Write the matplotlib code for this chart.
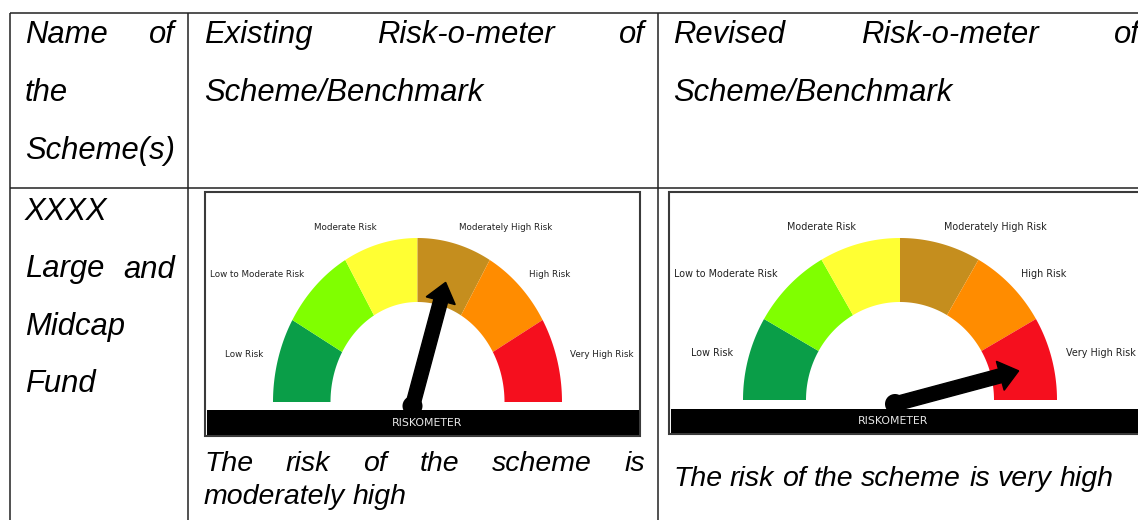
import numpy as np
import matplotlib
matplotlib.use('Agg')
import matplotlib.pyplot as plt
from matplotlib.patches import Polygon, Rectangle, FancyArrow, Circle

# data
RISK_LEVELS = ['Low Risk', 'Low to Moderate Risk', 'Moderate Risk',
               'Moderately High Risk', 'High Risk', 'Very High Risk']
RISK_COLORS = ['#0a9e48', '#80ff00', '#ffff33', '#c58e1e', '#ff8c00', '#f50f1e']

HEADERS = ['Name of the Scheme(s)',
           'Existing Risk-o-meter of Scheme/Benchmark',
           'Revised Risk-o-meter of Scheme/Benchmark']
SCHEME_NAME = 'XXXX Large and Midcap Fund'
EXISTING_LEVEL = 'Moderately High Risk'
REVISED_LEVEL = 'Very High Risk'
EXISTING_TEXT = 'The risk of the scheme is moderately high'
REVISED_TEXT = 'The risk of the scheme is very high'
METER_TITLE = 'RISKOMETER'

# label placement around a gauge, in units of the gauge radii
LABEL_POS = [(-1.20, 0.29), (-1.11, 0.78), (-0.50, 1.067),
             (0.607, 1.067), (0.915, 0.78), (1.278, 0.29)]

BODY = dict(family='Liberation Sans', fontstyle='italic', color='black')

fig = plt.figure(figsize=(11.38, 5.2), dpi=100)
ax = fig.add_axes([0, 0, 1, 1])
ax.set_xlim(0, 1138)
ax.set_ylim(520, 0)
ax.axis('off')
renderer = fig.canvas.get_renderer()


def text_width(s, size):
    t = ax.text(0, 0, s, fontsize=size, **BODY)
    w = t.get_window_extent(renderer).width
    t.remove()
    return w


def paragraph(text, x0, x1, y0, size, lead, justify=True):
    words = text.split()
    widths = [text_width(w, size) for w in words]
    space = text_width('x x', size) - text_width('xx', size)
    lines, cur = [], []
    for w, wd in zip(words, widths):
        trial = cur + [(w, wd)]
        tw = sum(d for _, d in trial) + space * (len(trial) - 1)
        if cur and tw > x1 - x0:
            lines.append(cur)
            cur = [(w, wd)]
        else:
            cur = trial
    lines.append(cur)
    for i, line in enumerate(lines):
        last = i == len(lines) - 1
        if justify and not last and len(line) > 1:
            gap = (x1 - x0 - sum(d for _, d in line)) / (len(line) - 1)
        else:
            gap = space
        x = x0
        for w, wd in line:
            ax.text(x, y0 + i * lead, w, fontsize=size, ha='left',
                    va='baseline', **BODY)
            x += wd + gap


def gauge(g, level):
    cx, cy, rx, ry, rxi, ryi = g['cx'], g['cy'], g['rx'], g['ry'], g['rxi'], g['ryi']
    x0, y0, x1, y1 = g['box']
    ax.add_patch(Rectangle((x0, y0), x1 - x0, y1 - y0, fc='white',
                           ec='#3a3a3a', lw=1.5, zorder=1))
    n = len(RISK_LEVELS)
    step = 180 / n
    for i, col in enumerate(RISK_COLORS):
        t = np.radians(np.linspace(180 - step * (i + 1), 180 - step * i, 40))
        outer = np.column_stack([cx + rx * np.cos(t), cy - ry * np.sin(t)])
        inner = np.column_stack([cx + rxi * np.cos(t), cy - ryi * np.sin(t)])[::-1]
        ax.add_patch(Polygon(np.vstack([outer, inner]), closed=True,
                             fc=col, ec='none', zorder=2))
    fs = 6.35 * rx / 144.5
    for name, (px, py) in zip(RISK_LEVELS, LABEL_POS):
        ax.text(cx + px * rx, cy - py * ry, name, fontsize=fs, ha='center',
                va='center', family='DejaVu Sans', color='#222222', zorder=3)
    # needle
    idx = RISK_LEVELS.index(level)
    a = np.radians(180 - step * (idx + 0.5))
    bx, by = cx - 5, cy + 4
    L = 128
    ax.add_patch(FancyArrow(bx, by, L * np.cos(a), -L * np.sin(a), width=14,
                            head_width=30, head_length=19,
                            length_includes_head=True, fc='black', ec='black',
                            zorder=4))
    ax.add_patch(Circle((bx, by), 10, fc='black', ec='none', zorder=4))
    bx0, by0, bx1, by1 = g['bar']
    ax.add_patch(Rectangle((bx0, by0), bx1 - bx0, by1 - by0, fc='black',
                           ec='none', zorder=5))
    ax.text(g['meter_x'], (by0 + by1) / 2, METER_TITLE, fontsize=7.8,
            family=['Liberation Sans Narrow', 'DejaVu Sans'], color='#e6e6e6',
            ha='center', va='center', zorder=6)


LEFT_GAUGE = dict(cx=417.5, cy=402, rx=144.5, ry=164, rxi=87, ryi=100,
                  box=(205.5, 191.5, 640, 435.5), bar=(207, 410, 639, 435),
                  meter_x=427)
RIGHT_GAUGE = dict(cx=900, cy=400, rx=157, ry=162, rxi=94, ryi=98,
                   box=(669, 191.5, 1160, 433.5), bar=(671, 409, 1160, 433),
                   meter_x=893)

# table grid
line = dict(color='#222222', lw=1.1, solid_capstyle='butt')
ax.plot([10, 1138], [12.7, 12.7], **line)
ax.plot([10, 1138], [188.3, 188.3], **line)
for x in [10, 188, 658]:
    ax.plot([x, x], [12.7, 520], **line)

# header row
H = 22.3
paragraph(HEADERS[0], 25, 175, 43, H, 58)
paragraph(HEADERS[1], 204, 645, 43, H, 58)
paragraph(HEADERS[2], 673, 1140, 43, H, 58)

# body row
paragraph(SCHEME_NAME, 25, 175, 220, H, 57.5)
gauge(LEFT_GAUGE, EXISTING_LEVEL)
gauge(RIGHT_GAUGE, REVISED_LEVEL)
paragraph(EXISTING_TEXT, 204, 645, 471, 20.5, 33)
paragraph(REVISED_TEXT, 673, 1140, 486.5, 20.5, 33)

fig.savefig('out.png', dpi=100)
